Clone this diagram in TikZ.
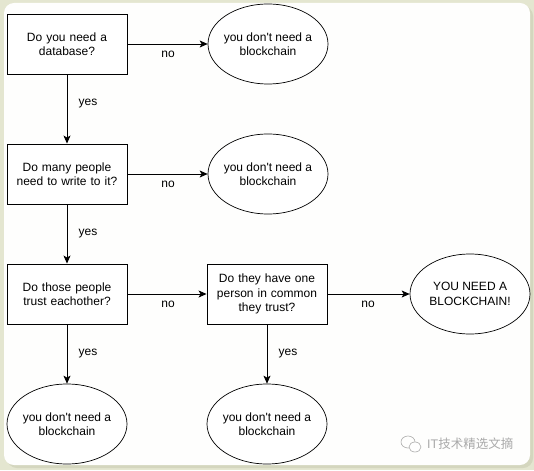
\documentclass[tikz,border=0pt]{standalone}
\usepackage{fontspec}
\setmainfont{Liberation Sans}[Ligatures=TeXOff]
\newfontfamily\cjk{Noto Sans CJK SC}
\usetikzlibrary{arrows.meta,shapes.geometric}
\definecolor{frame}{RGB}{228,230,208}
\definecolor{shadow}{RGB}{212,214,190}
\definecolor{wm}{RGB}{170,170,170}
\newcommand{\zline}[1]{\makebox[0pt]{#1}}
\begin{document}
\begin{tikzpicture}[x=1pt,y=-1pt,
  every node/.style={font=\fontsize{12}{14.5}\selectfont},
  question/.style={draw=black,line width=0.9pt,fill=white,minimum width=120pt,minimum height=60pt,inner sep=0pt,align=center,text width=115pt},
  answer/.style={draw=black,line width=0.7pt,fill=white,ellipse,minimum width=120pt,minimum height=80pt,inner sep=0pt,align=center},
  flow/.style={draw=black,line width=0.8pt,-{Stealth[length=8pt,width=7pt,inset=2pt]}},
  lbl/.style={inner sep=0pt}]
\useasboundingbox (0,0) rectangle (534,470);
\fill[frame] (0,0) rectangle (534,470);
\fill[shadow,rounded corners=10pt] (7,6) rectangle (533,468);
\fill[white!97!frame,rounded corners=10pt] (4,3) rectangle (530,465);

\node[question] (q1) at (67,44) {Do you need a\\database?};
\node[question] (q2) at (67,174) {Do many people\\need to write to it?};
\node[question] (q3) at (67,294) {Do those people\\trust eachother?};
\node[question] (q4) at (267,294) {Do they have one\\person in common\\they trust?};

\node[answer] (a1) at (268,44) {\zline{you don't need a}\\\zline{blockchain}};
\node[answer] (a2) at (268,174) {\zline{you don't need a}\\\zline{blockchain}};
\node[answer] (a3) at (470,294) {\zline{YOU NEED A}\\\zline{BLOCKCHAIN!}};
\node[answer] (a4) at (67,424) {\zline{you don't need a}\\\zline{blockchain}};
\node[answer] (a5) at (267,424) {\zline{you don't need a}\\\zline{blockchain}};

\draw[flow] (q1) -- (a1);
\draw[flow] (q1) -- (q2);
\draw[flow] (q2) -- (a2);
\draw[flow] (q2) -- (q3);
\draw[flow] (q3) -- (q4);
\draw[flow] (q4) -- (a3);
\draw[flow] (q3) -- (a4);
\draw[flow] (q4) -- (a5);

\node[lbl] (n1) at (168,54) {no};
\node[lbl] (y1) at (88,104) {yes};
\node[lbl] (n2) at (168,184) {no};
\node[lbl] (y2) at (88,234) {yes};
\node[lbl] (n3) at (168,304) {no};
\node[lbl] (n4) at (368,304) {no};
\node[lbl] (y3) at (88,354) {yes};
\node[lbl] (y4) at (288,354) {yes};

% watermark
\draw[wm,line width=0.6pt] (408,442) ellipse (7pt and 6pt);
\draw[wm,line width=0.6pt,fill=white!97!frame] (415,447) ellipse (6pt and 5pt);
\node[inner sep=0pt,anchor=west,text=wm,font=\fontsize{12.5}{14}\selectfont] (wmtext) at (427,444) {IT{\cjk 技术精选文摘}};
\end{tikzpicture}
\end{document}
